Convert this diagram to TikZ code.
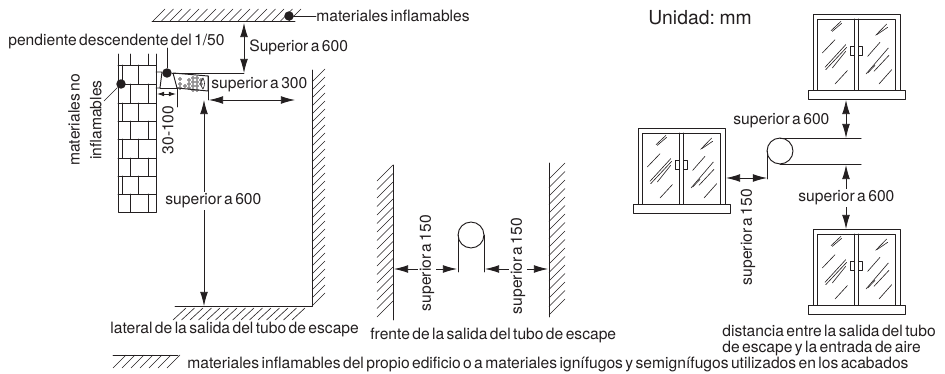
\documentclass[tikz,border=0pt]{standalone}
\usepackage{fontspec}
\setmainfont[WordSpace=0.55]{TeX Gyre Heros}
\usetikzlibrary{arrows.meta}
\definecolor{ink}{HTML}{231F20}
\tikzset{
  lbl/.style={font=\fontsize{8.9}{8.9}\selectfont, text=ink, inner sep=0pt},
  lblback/.style={lbl, fill=white, inner xsep=0pt, inner ysep=1pt},
  wall/.style={draw=ink, line width=.55pt},
  hatchline/.style={draw=ink, line width=.35pt},
  dim/.style={draw=ink, line width=.45pt, {Latex[length=8pt,width=4.4pt]}-{Latex[length=8pt,width=4.4pt]}},
  dimto/.style={draw=ink, line width=.45pt, -{Latex[length=8pt,width=4.4pt]}},
  dimsmall/.style={draw=ink, line width=.45pt, {Latex[length=4pt,width=2.6pt]}-{Latex[length=4pt,width=2.6pt]}},
  blob/.style={circle, fill=ink, inner sep=0pt, minimum size=5.4pt},
  window/.pic={
    \draw[wall] (0,76)--(0,0)--(87,0)--(87,76);
    \draw[wall] (4.5,76)--(4.5,5)--(82,5)--(82,76);
    \draw[wall] (41.5,5)--(41.5,76);
    \draw[wall] (45.5,5)--(45.5,76);
    \draw[wall,fill=white] (-5,76) rectangle (92,85.5);
    \draw[hatchline,line width=.3pt] (37.5,32.5) rectangle (41.5,41.5) (45.5,32.5) rectangle (49.5,41.5);
    \foreach \xa/\ya/\xb/\yb in {18/16.7/28/7.3,19.3/17.3/28.7/9.3,9.3/39/22/25.7,12/53.3/32.7/30.7,12.7/55.7/33.7/33.3,19.3/54/32.7/37.3,22/70/34.3/56.7,62.7/21.3/73.7/10,63.7/20.7/74.7/13.3,54.7/42.3/67/28.3,53/60/75.3/34,54.7/59/62/51.3,61/57.3/76/41.3,66/70/78.7/55.7}
      \draw[hatchline] (\xa,\ya)--(\xb,\yb);
  }
}
\begin{document}
\begin{tikzpicture}[x=0.02cm, y=-0.02cm, line join=round, line cap=round]
\useasboundingbox (0,0) rectangle (945,374);
% top ceiling
\coordinate (ceilL) at (152,21); \coordinate (ceilR) at (295,21);
\draw[wall] (ceilL)--(ceilR);
\foreach \x in {153,161.5,...,290}\draw[hatchline] (\x,21)--(\x+12,9);
\node[blob] (ceilDot) at (289,16) {};
\node[lbl, anchor=west] (ceilText) at (316,16) {materiales inflamables};
\draw[hatchline] (ceilDot)--(ceilText);
% brick wall
\coordinate (brickTL) at (118,54); \coordinate (brickBL) at (118,212);
\coordinate (brickTR) at (156,54); \coordinate (brickBR) at (156,212);
\draw[wall] (brickTL)--(brickBL)--(brickBR)--(brickTR);
\foreach \y in {65,84,103,121,139,158,176,194}\draw[wall] (118,\y)--(156,\y);
\foreach \ya/\yb in {54/65,84/103,121/139,158/176,194/212}{\draw[wall] (130,\ya)--(130,\yb); \draw[wall] (148,\ya)--(148,\yb);}
\foreach \ya/\yb in {65/84,103/121,139/158,176/194}{\draw[wall] (122,\ya)--(122,\yb); \draw[wall] (138,\ya)--(138,\yb);}
\node[blob] (brickDot) at (121,84) {};
\coordinate (brickLead) at (104,101);
\draw[hatchline] (brickDot)--(brickLead);
\node[lbl, rotate=90, align=center] (brickText) at (85,120) {materiales no\\[3.5pt]inflamables};
% flue on the wall
\coordinate (flueA) at (173,73); \coordinate (flueB) at (208,76);
\coordinate (flueC) at (208,91); \coordinate (flueD) at (177,88);
\draw[wall] (156,72)--(162,72)--(160,88)--(156,88);
\draw[wall] (160,88)--(flueD);
\draw[wall] (flueA)--(flueB)--(flueC)--(flueD)--cycle;
\foreach \x/\y in {180/79,180/84,180/88,185/86,189/80,189/84,189/88,193/78,193/82,193/86,193/90,197/78,197/82,197/86,197/90,201/80,201/84}
  \draw[hatchline,line width=.3pt] (\x,\y) circle (1.5);
\draw[hatchline] (203,78) .. controls (200,82) and (200,85) .. (203,89);
\draw[hatchline] (203,78) .. controls (205,82) and (205,85) .. (203,89);
\coordinate (flueEnd) at (208,100);
\draw[wall] (flueB)--(flueEnd);
\node[blob] (slopeDot) at (167,73) {};
\node[lbl, anchor=west] (slopeText) at (8,42) {pendiente descendente del 1/50};
\coordinate (slopeTop) at (167,48);
\draw[hatchline] (slopeDot)--(slopeTop);
\coordinate (flueTop) at (244,73);
\draw[hatchline] (slopeDot)--(flueTop);
\draw[dim] (244,23)--(flueTop);
\node[lbl, anchor=west] (upText) at (249,47) {Superior a 600};
% gap to the flue
\coordinate (gapTick) at (177,107);
\draw[hatchline] (flueD)--(gapTick);
\draw[dimsmall] (157,94)--(176,94);
\node[lbl, rotate=90] (gapText) at (168,130) {30-100};
% side room
\coordinate (roomT) at (312,70); \coordinate (roomC) at (312,306); \coordinate (roomL) at (175,306);
\draw[wall] (roomT)--(roomC)--(roomL);
\foreach \y in {82,90,...,306}\draw[hatchline] (312,\y)--(325,\y-13);
\foreach \x in {186,194.5,...,312}\draw[hatchline] (\x,308)--(\x-13,320);
\draw[dim] (209,100)--(295,100);
\node[lbl, anchor=west] (sideText) at (211,85) {superior a 300};
\draw[dim] (204,100)--(204,306);
\node[lblback, anchor=west] (downText) at (165,201) {superior a 600};
\node[lbl, anchor=west] (sideCap) at (110,330) {lateral de la salida del tubo de escape};
% front view
\coordinate (frontLT) at (393,165); \coordinate (frontLB) at (393,320);
\coordinate (frontRT) at (549,163); \coordinate (frontRB) at (549,317);
\draw[wall] (frontLT)--(frontLB) (frontRT)--(frontRB);
\foreach \y in {165,173.5,...,304}\draw[hatchline] (393,\y)--(377,\y+16);
\foreach \y in {179,187.5,...,317}\draw[hatchline] (549,\y)--(565,\y-16);
\node[circle, draw=ink, line width=.55pt, minimum size=26pt*.567, inner sep=0pt] (frontFlue) at (471,235) {};
\coordinate (frontFlueL) at (458,272); \coordinate (frontFlueR) at (484,272);
\draw[wall] (458,235)--(frontFlueL) (484,235)--(frontFlueR);
\draw[dim] (394,269)--(457,269);
\draw[dim] (485,269)--(548,269);
\node[lblback, rotate=90] (frontTextL) at (427,263) {superior a 150};
\node[lblback, rotate=90] (frontTextR) at (518,266) {superior a 150};
\node[lbl, anchor=west] (frontCap) at (370,335) {frente de la salida del tubo de escape};
% unit
\node[lbl, anchor=west, font=\fontsize{11}{11}\selectfont] (unitText) at (648,18) {Unidad: mm};
% windows
\pic (winTop) at (813,14) {window};
\pic (winLeft) at (638,128) {window};
\pic (winBot) at (813,229) {window};
% flue seen from the outside
\node[circle, draw=ink, line width=.55pt, minimum size=26pt*.567, inner sep=0pt] (airFlue) at (780,151) {};
\coordinate (airT) at (861,138); \coordinate (airB) at (861,164); \coordinate (airTick) at (767,179);
\draw[wall] (780,138)--(airT) (780,164)--(airB) (767,151)--(airTick);
\draw[dim] (846,100)--(846,138);
\node[lbl, anchor=west] (airTextT) at (733,121) {superior a 600};
\draw[dimto] (846,197)--(846,165);
\draw[dimto] (846,198)--(846,229);
\node[lblback, anchor=west] (airTextB) at (798,198) {superior a 600};
\draw[dim] (726,178)--(767,178);
\node[lbl, rotate=90] (airTextL) at (748,237) {superior a 150};
\node[lbl, anchor=west, align=left] (airCap) at (722,340.5) {distancia entre la salida del tubo\\de escape y la entrada de aire};
% legend
\coordinate (legL) at (113,355); \coordinate (legR) at (178,355);
\draw[wall] (legL)--(legR);
\foreach \x in {126,135,...,180}\draw[hatchline] (\x,355)--(\x-13,368);
\node[lbl, anchor=west] (legText) at (187,364) {materiales inflamables del propio edificio o a materiales ignífugos y semignífugos utilizados en los acabados};
\end{tikzpicture}
\end{document}
